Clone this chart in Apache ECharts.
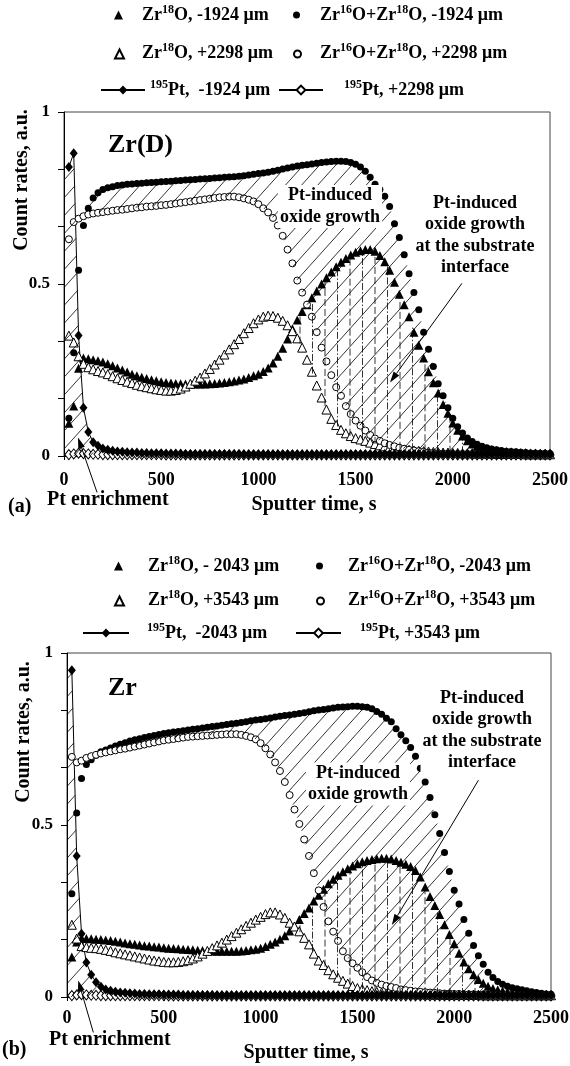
<!DOCTYPE html>
<html><head><meta charset="utf-8">
<script src="https://cdn.jsdelivr.net/npm/echarts@6/dist/echarts.min.js"></script>
<style>html,body{margin:0;padding:0;background:#fff}#main{width:570px;height:1066px}</style>
</head><body><div id="main"></div>
<script>
// ---------- DATA ----------
const times = [25,50,75,100,125,150,175,200,225,250,
275,300,325,350,375,400,425,450,475,500,
525,550,575,600,625,650,675,700,725,750,
775,800,825,850,875,900,925,950,975,1000,
1025,1050,1075,1100,1125,1150,1175,1200,1225,1250,
1275,1300,1325,1350,1375,1400,1425,1450,1475,1500,
1525,1550,1575,1600,1625,1650,1675,1700,1725,1750,
1775,1800,1825,1850,1875,1900,1925,1950,1975,2000,
2025,2050,2075,2100,2125,2150,2175,2200,2225,2250,
2275,2300,2325,2350,2375,2400,2425,2450,2475,2500];

// panel (a) Zr(D)
const a_zr18_m1924 = [0.095,0.145,0.255,0.285,0.283,0.280,0.277,0.273,0.268,0.262,
0.256,0.250,0.244,0.238,0.233,0.229,0.225,0.222,0.219,0.216,
0.214,0.212,0.211,0.210,0.209,0.209,0.209,0.209,0.209,0.210,
0.211,0.212,0.214,0.216,0.218,0.221,0.224,0.228,0.233,0.238,
0.246,0.256,0.270,0.290,0.313,0.340,0.370,0.395,0.420,0.440,
0.460,0.480,0.500,0.518,0.535,0.550,0.563,0.574,0.584,0.592,
0.597,0.600,0.600,0.595,0.583,0.565,0.540,0.505,0.470,0.440,
0.405,0.360,0.322,0.285,0.245,0.213,0.183,0.150,0.124,0.096,
0.075,0.058,0.044,0.035,0.028,0.024,0.021,0.018,0.016,0.014,
0.013,0.012,0.011,0.010,0.010,0.009,0.009,0.008,0.008,0.008];
const a_zr1618_m1924 = [0.110,0.300,0.540,0.670,0.720,0.750,0.765,0.775,0.780,0.783,
0.786,0.788,0.790,0.791,0.792,0.793,0.794,0.795,0.796,0.797,
0.798,0.799,0.800,0.801,0.802,0.803,0.804,0.805,0.806,0.807,
0.808,0.809,0.810,0.811,0.812,0.813,0.815,0.817,0.819,0.821,
0.823,0.825,0.828,0.831,0.834,0.837,0.840,0.843,0.845,0.847,
0.849,0.851,0.853,0.855,0.856,0.857,0.857,0.856,0.853,0.848,
0.840,0.828,0.810,0.790,0.775,0.755,0.725,0.675,0.635,0.585,
0.530,0.475,0.425,0.360,0.310,0.260,0.210,0.175,0.140,0.110,
0.085,0.067,0.052,0.042,0.034,0.028,0.024,0.020,0.018,0.016,
0.014,0.013,0.012,0.011,0.010,0.009,0.009,0.008,0.008,0.007];
const a_zr18_p2298 = [0.350,0.330,0.290,0.268,0.258,0.252,0.247,0.243,0.238,0.232,
0.226,0.221,0.216,0.212,0.207,0.203,0.200,0.197,0.194,0.192,
0.190,0.190,0.192,0.196,0.202,0.210,0.219,0.228,0.240,0.253,
0.266,0.280,0.295,0.310,0.325,0.340,0.357,0.372,0.386,0.397,
0.405,0.408,0.407,0.402,0.393,0.380,0.363,0.342,0.315,0.280,
0.245,0.205,0.170,0.135,0.108,0.090,0.076,0.066,0.058,0.052,
0.048,0.044,0.039,0.035,0.031,0.028,0.025,0.023,0.021,0.019,
0.018,0.016,0.015,0.014,0.013,0.012,0.011,0.010,0.010,0.009,
0.009,0.008,0.008,0.008,0.007,0.007,0.007,0.007,0.006,0.006,
0.006,0.006,0.006,0.006,0.005,0.005,0.005,0.005,0.005,0.005];
const a_zr1618_p2298 = [0.630,0.680,0.690,0.697,0.702,0.705,0.707,0.709,0.711,0.713,
0.715,0.716,0.718,0.720,0.722,0.723,0.725,0.726,0.727,0.729,
0.730,0.732,0.734,0.736,0.738,0.740,0.742,0.744,0.746,0.748,
0.750,0.752,0.753,0.754,0.754,0.752,0.749,0.745,0.740,0.732,
0.720,0.708,0.692,0.670,0.640,0.600,0.560,0.510,0.475,0.440,
0.405,0.360,0.315,0.275,0.235,0.200,0.175,0.145,0.122,0.103,
0.088,0.074,0.061,0.051,0.044,0.037,0.032,0.028,0.024,0.021,
0.018,0.016,0.014,0.012,0.010,0.009,0.008,0.007,0.007,0.006,
0.006,0.006,0.006,0.006,0.006,0.005,0.005,0.005,0.005,0.005,
0.005,0.005,0.005,0.005,0.005,0.005,0.005,0.005,0.005,0.005];
const a_pt_m1924 = [0.840,0.880,0.350,0.140,0.070,0.040,0.030,0.022,0.018,0.015,
0.013,0.012,0.011,0.010,0.010,0.009,0.009,0.008,0.008,0.008,
0.007,0.007,0.007,0.007,0.006,0.006,0.006,0.006,0.006,0.006,
0.006,0.006,0.006,0.006,0.006,0.006,0.005,0.005,0.005,0.005,
0.005,0.005,0.005,0.005,0.005,0.005,0.005,0.005,0.005,0.005,
0.005,0.005,0.005,0.005,0.005,0.005,0.005,0.005,0.005,0.005,
0.005,0.005,0.005,0.005,0.005,0.005,0.005,0.005,0.005,0.005,
0.005,0.005,0.005,0.005,0.005,0.005,0.005,0.005,0.005,0.005,
0.005,0.005,0.005,0.005,0.005,0.005,0.005,0.005,0.005,0.005,
0.005,0.005,0.005,0.005,0.005,0.005,0.005,0.005,0.005,0.005];
const a_pt_p2298 = [0.004,0.006,0.008,0.007,0.006,0.005,0.005,0.004,0.004,0.004,
0.004,0.004,0.004,0.004,0.004,0.004,0.004,0.004,0.004,0.004,
0.003,0.003,0.003,0.003,0.003,0.003,0.003,0.003,0.003,0.003,
0.003,0.003,0.003,0.003,0.003,0.003,0.003,0.003,0.003,0.003,
0.003,0.003,0.003,0.003,0.003,0.003,0.003,0.003,0.003,0.003,
0.003,0.003,0.003,0.003,0.003,0.003,0.003,0.003,0.003,0.003,
0.003,0.003,0.003,0.003,0.003,0.003,0.003,0.003,0.003,0.003,
0.003,0.003,0.003,0.003,0.003,0.003,0.003,0.003,0.003,0.003,
0.003,0.003,0.003,0.003,0.003,0.003,0.003,0.003,0.003,0.003,
0.003,0.003,0.003,0.003,0.003,0.003,0.003,0.003,0.003,0.003];

// panel (b) Zr
const b_zr18_m2043 = [0.116,0.160,0.172,0.170,0.169,0.168,0.167,0.166,0.164,0.162,
0.160,0.157,0.155,0.153,0.151,0.149,0.148,0.146,0.145,0.143,
0.142,0.141,0.140,0.139,0.138,0.137,0.136,0.135,0.134,0.134,
0.133,0.133,0.133,0.133,0.133,0.134,0.135,0.137,0.139,0.142,
0.147,0.153,0.160,0.168,0.178,0.192,0.206,0.225,0.243,0.259,
0.279,0.296,0.313,0.329,0.342,0.354,0.364,0.373,0.381,0.387,
0.393,0.397,0.400,0.402,0.403,0.403,0.401,0.397,0.392,0.386,
0.379,0.368,0.349,0.320,0.292,0.266,0.240,0.210,0.182,0.155,
0.127,0.102,0.082,0.065,0.051,0.040,0.031,0.025,0.021,0.018,
0.016,0.014,0.012,0.011,0.010,0.008,0.007,0.006,0.006,0.005];
const b_zr1618_m2043 = [0.300,0.535,0.635,0.676,0.690,0.703,0.713,0.718,0.724,0.730,
0.735,0.739,0.744,0.748,0.751,0.754,0.757,0.760,0.763,0.766,
0.768,0.770,0.772,0.774,0.776,0.778,0.780,0.782,0.784,0.786,
0.788,0.790,0.792,0.794,0.796,0.798,0.800,0.803,0.805,0.807,
0.809,0.811,0.814,0.816,0.818,0.820,0.822,0.824,0.826,0.829,
0.832,0.834,0.836,0.838,0.840,0.842,0.843,0.844,0.845,0.845,
0.844,0.842,0.838,0.830,0.822,0.810,0.800,0.780,0.762,0.745,
0.725,0.700,0.665,0.625,0.580,0.530,0.475,0.420,0.365,0.310,
0.270,0.225,0.185,0.150,0.120,0.095,0.072,0.057,0.045,0.037,
0.031,0.027,0.024,0.021,0.018,0.015,0.013,0.011,0.009,0.008];
const b_zr18_p3543 = [0.210,0.170,0.148,0.145,0.143,0.142,0.140,0.137,0.134,0.130,
0.127,0.124,0.121,0.118,0.115,0.112,0.109,0.106,0.104,0.102,
0.101,0.101,0.102,0.104,0.107,0.112,0.118,0.126,0.134,0.142,
0.150,0.158,0.167,0.177,0.187,0.197,0.207,0.216,0.225,0.233,
0.241,0.246,0.246,0.240,0.230,0.216,0.205,0.191,0.172,0.153,
0.126,0.106,0.093,0.078,0.066,0.056,0.047,0.039,0.032,0.026,
0.023,0.020,0.017,0.015,0.013,0.012,0.011,0.010,0.010,0.009,
0.009,0.008,0.008,0.008,0.007,0.007,0.007,0.007,0.006,0.006,
0.006,0.006,0.006,0.006,0.006,0.005,0.005,0.005,0.005,0.005,
0.005,0.005,0.005,0.005,0.005,0.005,0.005,0.005,0.005,0.005];
const b_zr1618_p3543 = [0.698,0.682,0.687,0.695,0.700,0.704,0.708,0.711,0.714,0.717,
0.720,0.722,0.725,0.728,0.731,0.734,0.737,0.740,0.743,0.746,
0.748,0.750,0.752,0.754,0.756,0.757,0.758,0.759,0.760,0.761,
0.762,0.763,0.764,0.764,0.764,0.762,0.759,0.755,0.749,0.738,
0.723,0.705,0.682,0.657,0.625,0.587,0.545,0.503,0.458,0.410,
0.360,0.310,0.262,0.220,0.190,0.163,0.133,0.113,0.098,0.085,
0.072,0.058,0.048,0.041,0.036,0.032,0.029,0.026,0.022,0.020,
0.018,0.016,0.015,0.014,0.013,0.012,0.011,0.010,0.010,0.009,
0.009,0.008,0.008,0.008,0.007,0.007,0.007,0.007,0.006,0.006,
0.006,0.006,0.006,0.006,0.005,0.005,0.005,0.005,0.005,0.005];
const b_pt_m2043 = [0.950,0.410,0.184,0.100,0.065,0.043,0.030,0.022,0.018,0.015,
0.013,0.012,0.011,0.010,0.009,0.009,0.008,0.008,0.008,0.007,
0.007,0.007,0.007,0.006,0.006,0.006,0.006,0.006,0.006,0.006,
0.005,0.005,0.005,0.005,0.005,0.005,0.005,0.005,0.005,0.005,
0.005,0.005,0.005,0.005,0.005,0.005,0.005,0.005,0.005,0.005,
0.005,0.005,0.005,0.005,0.005,0.005,0.005,0.005,0.005,0.005,
0.005,0.005,0.005,0.005,0.005,0.005,0.005,0.005,0.005,0.005,
0.005,0.005,0.005,0.005,0.005,0.005,0.005,0.005,0.005,0.005,
0.005,0.005,0.005,0.005,0.005,0.005,0.005,0.005,0.005,0.005,
0.005,0.005,0.005,0.005,0.005,0.005,0.005,0.005,0.005,0.005];
const b_pt_p3543 = [0.004,0.006,0.007,0.006,0.005,0.005,0.004,0.004,0.004,0.004,
0.004,0.004,0.004,0.004,0.004,0.004,0.004,0.004,0.004,0.004,
0.003,0.003,0.003,0.003,0.003,0.003,0.003,0.003,0.003,0.003,
0.003,0.003,0.003,0.003,0.003,0.003,0.003,0.003,0.003,0.003,
0.003,0.003,0.003,0.003,0.003,0.003,0.003,0.003,0.003,0.003,
0.003,0.003,0.003,0.003,0.003,0.003,0.003,0.003,0.003,0.003,
0.003,0.003,0.003,0.003,0.003,0.003,0.003,0.003,0.003,0.003,
0.003,0.003,0.003,0.003,0.003,0.003,0.003,0.003,0.003,0.003,
0.003,0.003,0.003,0.003,0.003,0.003,0.003,0.003,0.003,0.003,
0.003,0.003,0.003,0.003,0.003,0.003,0.003,0.003,0.003,0.003];

// names and legend labels
const namesA = ['Zr18O, -1924 μm','Zr16O+Zr18O, -1924 μm','Zr18O, +2298 μm','Zr16O+Zr18O, +2298 μm','195Pt,  -1924 μm','195Pt, +2298 μm'];
const legendA = ['{b|Zr}{s|18}{b|O, -1924 μm}','{b|Zr}{s|16}{b|O+Zr}{s|18}{b|O, -1924 μm}','{b|Zr}{s|18}{b|O, +2298 μm}','{b|Zr}{s|16}{b|O+Zr}{s|18}{b|O, +2298 μm}','{s|195}{b|Pt,  -1924 μm}','{s|195}{b|Pt, +2298 μm}'];
const namesB = ['Zr18O, - 2043 μm','Zr16O+Zr18O, -2043 μm','Zr18O, +3543 μm','Zr16O+Zr18O, +3543 μm','195Pt,  -2043 μm','195Pt, +3543 μm'];
const legendB = ['{b|Zr}{s|18}{b|O, - 2043 μm}','{b|Zr}{s|16}{b|O+Zr}{s|18}{b|O, -2043 μm}','{b|Zr}{s|18}{b|O, +3543 μm}','{b|Zr}{s|16}{b|O+Zr}{s|18}{b|O, +3543 μm}','{s|195}{b|Pt,  -2043 μm}','{s|195}{b|Pt, +3543 μm}'];

const yLabelValues = [0, 0.5, 1];
const yLabelTexts = ['0', '0.5', '1'];
const yTickValues = [0, 1/6, 2/6, 3/6, 4/6, 5/6, 1];

// annotation geometry in data units
const arrowsA = [{from:[170,-0.106], to:[72,0.054]}, {from:[2047,0.502], to:[1677,0.214]}];
const arrowsB = [{from:[136,-0.103], to:[58,0.048]}, {from:[2125,0.63], to:[1678,0.209]}];

// ---------- HELPERS ----------
const FONT = '"Liberation Serif","Times New Roman",serif';
const zip = v => times.map((t,i)=>[t, v[i]]);

function band(upper, lower, t0, t1){
  const p=[];
  for(let i=0;i<times.length;i++) if(times[i]>=t0&&times[i]<=t1) p.push([times[i],upper[i]]);
  for(let i=times.length-1;i>=0;i--) if(times[i]>=t0&&times[i]<=t1) p.push([times[i],lower[i]]);
  return p;
}
function underCurve(curve, t1){
  const p=[[0,0],[0,curve[0]]];
  for(let i=0;i<times.length;i++) if(times[i]<=t1) p.push([times[i],curve[i]]);
  p.push([t1,0]);
  return p;
}
function hatch(poly, angDeg, spacing){
  const a=angDeg*Math.PI/180, d=[Math.cos(a),-Math.sin(a)], n=[Math.sin(a),Math.cos(a)];
  let mn=Infinity,mx=-Infinity;
  poly.forEach(p=>{const s=p[0]*n[0]+p[1]*n[1]; if(s<mn)mn=s; if(s>mx)mx=s;});
  const out=[];
  for(let s=Math.ceil(mn/spacing)*spacing; s<=mx; s+=spacing){
    const k=Math.round(s/spacing);
    const pts=[];
    for(let i=0;i<poly.length;i++){
      const p=poly[i], q=poly[(i+1)%poly.length];
      const fp=p[0]*n[0]+p[1]*n[1]-s, fq=q[0]*n[0]+q[1]*n[1]-s;
      if((fp<0)!==(fq<0)){const t=fp/(fp-fq); pts.push([p[0]+t*(q[0]-p[0]), p[1]+t*(q[1]-p[1])]);}
    }
    pts.sort((u,v)=>(u[0]*d[0]+u[1]*d[1])-(v[0]*d[0]+v[1]*d[1]));
    for(let j=0;j+1<pts.length;j+=2) out.push({a:pts[j],b:pts[j+1],k});
  }
  return out;
}
function hatchSeries(gi, regions){
  return {type:'custom', xAxisIndex:gi*2, yAxisIndex:gi, data:[[0,0]], silent:true, z:3, clip:true,
    renderItem:(params, api)=>{
      const ch=[];
      regions.forEach(r=>{
        const poly=r.pts.map(p=>api.coord(p));
        hatch(poly, r.angle, r.spacing).forEach(sg=>{
          ch.push({type:'line', shape:{x1:sg.a[0],y1:sg.a[1],x2:sg.b[0],y2:sg.b[1]},
            style:{stroke:'#000', lineWidth:0.8, lineDash: r.dashes ? r.dashes[((sg.k%r.dashes.length)+r.dashes.length)%r.dashes.length] : null}});
        });
      });
      return {type:'group', children:ch};
    }};
}
function arrowSeries(gi, arrows){
  return {type:'custom', xAxisIndex:gi*2, yAxisIndex:gi, data:[[0,0]], silent:true, z:4, clip:false,
    renderItem:(params, api)=>{
      const ch=[];
      arrows.forEach(ar=>{
        const p1=api.coord(ar.from), p2=api.coord(ar.to);
        const dx=p2[0]-p1[0], dy=p2[1]-p1[1], L=Math.hypot(dx,dy), ux=dx/L, uy=dy/L;
        const hl=11, hw=3.5, bx=p2[0]-ux*hl, by=p2[1]-uy*hl;
        ch.push({type:'line', shape:{x1:p1[0],y1:p1[1],x2:bx,y2:by}, style:{stroke:'#000',lineWidth:1}});
        ch.push({type:'polygon', shape:{points:[[p2[0],p2[1]],[bx-uy*hw,by+ux*hw],[bx+uy*hw,by-ux*hw]]}, style:{fill:'#000'}});
      });
      return {type:'group', children:ch};
    }};
}
function scatter(name, gi, vals, symbol, size, filled){
  return {name, type:'scatter', xAxisIndex:gi*2, yAxisIndex:gi, data:zip(vals), symbol, symbolSize:size,
    itemStyle: filled?{color:'#000', opacity:1}:{color:'#fff', borderColor:'#000', borderWidth:1, opacity:1},
    emphasis:{disabled:true}, silent:true, z:2};
}
function ptLine(name, gi, vals, filled){
  return {name, type:'line', xAxisIndex:gi*2, yAxisIndex:gi, data:zip(vals), symbol:'diamond', symbolSize:[8,10],
    showSymbol:true, showAllSymbol:true, lineStyle:{color:'#000', width:1, opacity:1},
    itemStyle: filled?{color:'#000', borderColor:'#000', borderWidth:0, opacity:1}:{color:'#fff', borderColor:'#000', borderWidth:1, opacity:1},
    emphasis:{disabled:true}, silent:true, z:2};
}
const RICH = {
  b:{fontFamily:FONT, fontWeight:'bold', fontSize:18, lineHeight:22, fill:'#000'},
  s:{fontFamily:FONT, fontWeight:'bold', fontSize:12, lineHeight:11, verticalAlign:'top', fill:'#000'}
};
// legend icons (ECharts legend) + labels (rich text)
function legendIcon(name, lay){
  const [left, cy, iw, ih] = lay;
  return {left, top:cy-ih/2, data:[name], itemWidth:iw, itemHeight:ih, padding:0, itemGap:0, selectedMode:false,
    itemStyle:{opacity:1}, textStyle:{fontSize:1}, formatter:()=>''};
}
const legendIconA = [[114,15,9,9],[293,15,7,7],[114,53,9,9],[293,53,7,7],[100,90,44,11],[278,90,44,11]];
const legendTextA = [[142,15],[320,15],[142,53],[320,53],[150,90],[344,90]];
const legendIconB = [[114,566,9,9],[316,566,7,7],[114,600,9,9],[316,600,7,7],[82,633,46,11],[295,633,45,11]];
const legendTextB = [[148,566],[348,566],[148,600],[348,600],[147,633],[360,633]];

function xMain(gi, margin){ return {type:'value', gridIndex:gi, min:0, max:2500, interval:500, position:'bottom',
  axisLine:{show:true, onZero:false, lineStyle:{color:'#000', width:1}},
  axisTick:{show:true, length:4, lineStyle:{color:'#000'}},
  axisLabel:{margin, fontFamily:FONT, fontWeight:'bold', fontSize:18, color:'#000', formatter:v=>String(v)}, splitLine:{show:false}}; }
function xInner(gi){ return {type:'value', gridIndex:gi, min:0, max:2500, interval:500, position:'bottom', offset:0,
  axisLine:{show:false}, axisTick:{show:true, inside:true, length:4, lineStyle:{color:'#000'}},
  axisLabel:{show:false}, splitLine:{show:false}}; }
function yAx(gi){ return {type:'value', gridIndex:gi, min:0, max:1,
  axisLine:{show:true, onZero:false, lineStyle:{color:'#000', width:1}},
  axisTick:{show:true, length:6, customValues:yTickValues, lineStyle:{color:'#000'}},
  axisLabel:{customValues:yLabelValues, margin:14, fontFamily:FONT, fontWeight:'bold', fontSize:17, color:'#000',
    formatter:v=>{const i=yLabelValues.findIndex(u=>Math.abs(u-v)<1e-6); return i>=0?yLabelTexts[i]:'';}},
  splitLine:{show:false}}; }

function gtext(x, y, text, size, align, extra){
  return Object.assign({type:'text', x, y, z:100, silent:true,
    style:Object.assign({text, fontFamily:FONT, fontWeight:'bold', fontSize:size, fill:'#000', align, verticalAlign:'middle'}, extra||{})});
}

// ---------- OPTION ----------
const series = [
  scatter(namesA[0],0,a_zr18_m1924,'triangle',9,true),
  scatter(namesA[1],0,a_zr1618_m1924,'circle',7,true),
  scatter(namesA[2],0,a_zr18_p2298,'triangle',9,false),
  scatter(namesA[3],0,a_zr1618_p2298,'circle',7,false),
  ptLine(namesA[5],0,a_pt_p2298,false),
  ptLine(namesA[4],0,a_pt_m1924,true),
  hatchSeries(0,[
    {pts:underCurve(a_pt_m1924,150), angle:48, spacing:12},
    {pts:band(a_zr1618_m1924,a_zr1618_p2298,125,2100), angle:48, spacing:12},
    {pts:band(a_zr18_m1924,a_zr18_p2298,1175,2100), angle:90, spacing:12.5, dashes:[[7,3],[7,2,1.5,2]]}
  ]),
  arrowSeries(0, arrowsA),
  scatter(namesB[0],1,b_zr18_m2043,'triangle',9,true),
  scatter(namesB[1],1,b_zr1618_m2043,'circle',7,true),
  scatter(namesB[2],1,b_zr18_p3543,'triangle',9,false),
  scatter(namesB[3],1,b_zr1618_p3543,'circle',7,false),
  ptLine(namesB[5],1,b_pt_p3543,false),
  ptLine(namesB[4],1,b_pt_m2043,true),
  hatchSeries(1,[
    {pts:underCurve(b_pt_m2043,150), angle:48, spacing:12},
    {pts:band(b_zr1618_m2043,b_zr1618_p3543,175,2150), angle:48, spacing:12},
    {pts:band(b_zr18_m2043,b_zr18_p3543,1175,2150), angle:90, spacing:12.5, dashes:[[7,3],[7,2,1.5,2]]}
  ]),
  arrowSeries(1, arrowsB)
];

const legends = [];
namesA.forEach((n,i)=>legends.push(legendIcon(n, legendIconA[i])));
namesB.forEach((n,i)=>legends.push(legendIcon(n, legendIconB[i])));

const multi = {lineHeight:21.5, backgroundColor:'#fff', padding:[0,2]};
const graphic = [
  gtext(22,180,'Count rates, a.u.',20,'center'),
  gtext(24,732,'Count rates, a.u.',20,'center'),
  gtext(108,145,'Zr(D)',26,'left'),
  gtext(108,688,'Zr',26,'left'),
  gtext(330,206.5,'Pt-induced\noxide growth',18,'center',multi),
  gtext(475,235.5,'Pt-induced\noxide growth\nat the substrate\ninterface',18,'center',multi),
  gtext(358,784,'Pt-induced\noxide growth',18,'center',multi),
  gtext(482,730.5,'Pt-induced\noxide growth\nat the substrate\ninterface',18,'center',multi),
  gtext(8,507,'(a)',20,'left'),
  gtext(47,500,'Pt enrichment',20,'left'),
  gtext(314,505,'Sputter time, s',20,'center'),
  gtext(2,1050,'(b)',20,'left'),
  gtext(49,1040,'Pt enrichment',20,'left'),
  gtext(306,1053,'Sputter time, s',20,'center')
];
graphic[0].rotation = Math.PI/2;
graphic[1].rotation = Math.PI/2;
legendA.forEach((m,i)=>graphic.push({type:'text', x:legendTextA[i][0], y:legendTextA[i][1], z:100, silent:true,
  style:{text:m, rich:RICH, fontFamily:FONT, fontWeight:'bold', fontSize:18, fill:'#000', align:'left', verticalAlign:'middle'}}));
legendB.forEach((m,i)=>graphic.push({type:'text', x:legendTextB[i][0], y:legendTextB[i][1], z:100, silent:true,
  style:{text:m, rich:RICH, fontFamily:FONT, fontWeight:'bold', fontSize:18, fill:'#000', align:'left', verticalAlign:'middle'}}));

const option = {
  animation:false,
  backgroundColor:'#fff',
  grid:[
    {left:64, top:112, width:486, height:344, show:true, borderColor:'#444', borderWidth:1, backgroundColor:'transparent', outerBoundsMode:'none'},
    {left:67, top:653, width:484, height:344, show:true, borderColor:'#444', borderWidth:1, backgroundColor:'transparent', outerBoundsMode:'none'}
  ],
  xAxis:[xMain(0,15), xInner(0), xMain(1,12), xInner(1)],
  yAxis:[yAx(0), yAx(1)],
  legend:legends,
  series,
  graphic
};
const chart = echarts.init(document.getElementById('main'), null, {renderer:'canvas'});
chart.setOption(option);
</script>
</body></html>
